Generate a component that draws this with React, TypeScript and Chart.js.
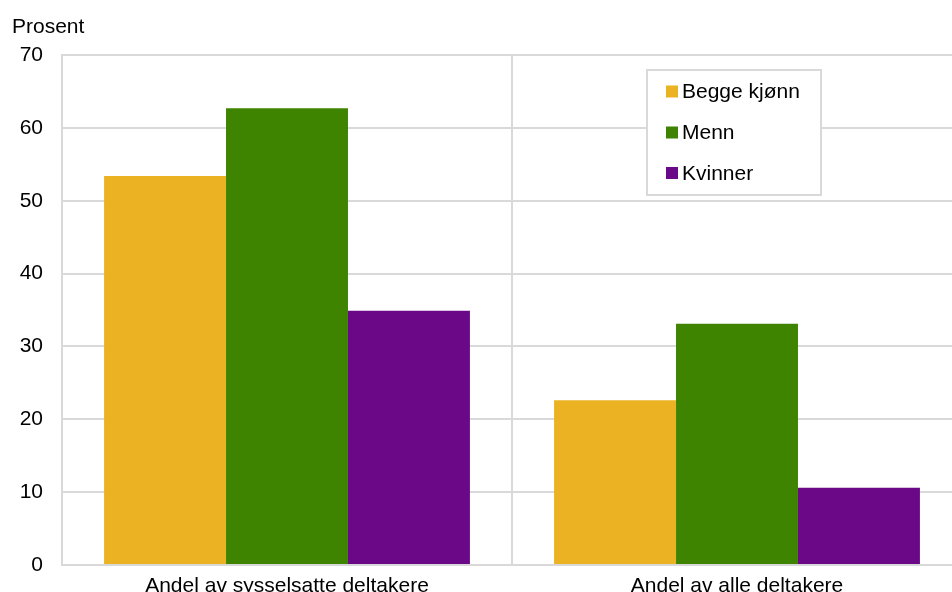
import React, { useEffect, useRef } from "react";
import { Chart, registerables } from "chart.js";

Chart.register(...registerables);

const categories = ["Andel av sysselsatte deltakere", "Andel av alle deltakere"];
const seriesNames = ["Begge kjønn", "Menn", "Kvinner"];
const beggeKjonn = [53.4, 22.6];
const menn = [62.7, 33.1];
const kvinner = [34.9, 10.6];
const seriesColors = ["#EBB323", "#3E8400", "#6A0888"];
const yTicks = [0, 10, 20, 30, 40, 50, 60, 70];

const FONT = "Arial, 'Liberation Sans', sans-serif";

const overlayPlugin = {
  id: "overlay",
  afterDraw(chart: any) {
    const ctx = chart.ctx;
    ctx.save();
    ctx.font = `21px ${FONT}`;
    ctx.fillStyle = "#000";
    ctx.textBaseline = "alphabetic";
    ctx.textAlign = "left";
    ctx.fillText("Prosent", 12, 33);
    // legend box
    const bx = 647, by = 70, bw = 174, bh = 125;
    ctx.fillStyle = "#fff";
    ctx.fillRect(bx, by, bw, bh);
    ctx.strokeStyle = "#d9d9d9";
    ctx.lineWidth = 2;
    ctx.strokeRect(bx, by, bw, bh);
    const ys = [91.5, 132.5, 173];
    chart.data.datasets.forEach((ds: any, i: number) => {
      ctx.fillStyle = ds.backgroundColor;
      ctx.fillRect(666, ys[i] - 6, 12, 12);
      ctx.fillStyle = "#000";
      ctx.textBaseline = "middle";
      ctx.fillText(ds.label, 682, ys[i] + 1);
    });
    ctx.restore();
  },
};

export default function App() {
  const ref = useRef<HTMLCanvasElement>(null);
  useEffect(() => {
    if (!ref.current) return;
    const data = [beggeKjonn, menn, kvinner];
    const chart = new Chart(ref.current, {
      type: "bar",
      data: {
        labels: categories,
        datasets: seriesNames.map((name, i) => ({
          label: name,
          data: data[i],
          backgroundColor: seriesColors[i],
          borderWidth: 0,
          barPercentage: 1,
          categoryPercentage: 0.813,
        })),
      },
      options: {
        responsive: false,
        animation: false,
        devicePixelRatio: 1,
        layout: { padding: { top: 55, right: 18, left: 0, bottom: 0 } },
        plugins: { legend: { display: false }, tooltip: { enabled: false }, title: { display: false } },
        scales: {
          x: {
            grid: { color: "#d9d9d9", lineWidth: 2, offset: true, drawTicks: false },
            border: { display: false },
            ticks: { color: "#000", font: { size: 21, family: FONT }, padding: 9, maxRotation: 0, autoSkip: false },
            afterFit: (axis: any) => { axis.height = 32; },
          },
          y: {
            min: 0,
            max: 70,
            afterBuildTicks: (axis: any) => { axis.ticks = yTicks.map((v) => ({ value: v })); },
            grid: { color: "#d9d9d9", lineWidth: 2, drawTicks: false },
            border: { display: true, color: "#d9d9d9", width: 2 },
            ticks: { color: "#000", font: { size: 21, family: FONT }, padding: 19 },
            afterFit: (axis: any) => { axis.width = 62; },
          },
        },
      },
      plugins: [overlayPlugin],
    });
    return () => chart.destroy();
  }, []);
  return (
    <div style={{ position: "fixed", left: 0, top: 0, width: 952, height: 592, overflow: "hidden", background: "#fff" }}>
      <canvas ref={ref} width={980} height={597} style={{ display: "block", width: 980, height: 597 }} />
    </div>
  );
}
